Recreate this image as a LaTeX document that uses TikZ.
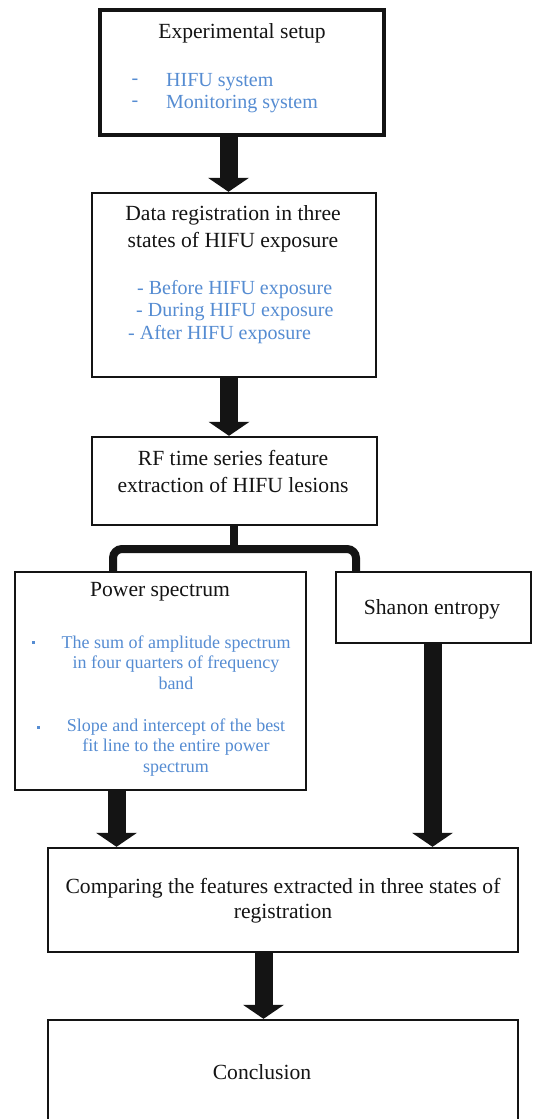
\documentclass[tikz,border=0pt]{standalone}
\usepackage{fontspec}
\setmainfont{Liberation Serif}
\usetikzlibrary{arrows.meta}
\definecolor{bluetxt}{RGB}{85,140,210}
\definecolor{ink}{RGB}{20,20,20}
\begin{document}
\begin{tikzpicture}[x=1pt,y=-1pt,
  box/.style={draw=ink, line width=2.4pt, inner sep=0pt, fill=white},
  ttl/.style={text=ink, font=\fontsize{21.6}{27}\selectfont, align=center, inner sep=0pt},
  blu/.style={text=bluetxt, font=\fontsize{20}{22.5}\selectfont, inner sep=0pt},
  blus/.style={text=bluetxt, font=\fontsize{18}{20.5}\selectfont, align=center, inner sep=0pt},
  bigarrow/.style={draw=ink, line width=18pt, -{Triangle[width=41pt,length=14pt,line width=0pt]}},
  forkline/.style={draw=ink, line width=8pt},
  dot/.style={fill=bluetxt, minimum size=3pt, inner sep=0pt}
]
\clip (0,0) rectangle (534,1119);
\fill[white] (0,0) rectangle (534,1119);

% boxes
\node[box, line width=3.6pt, minimum width=284pt, minimum height=125pt] (b1) at (242,72.5) {};
\node[box, minimum width=284pt, minimum height=184pt] (b2) at (234,285) {};
\node[box, minimum width=285pt, minimum height=88pt] (b3) at (234.5,481) {};
\node[box, minimum width=291pt, minimum height=218pt] (b4) at (160.5,681) {};
\node[box, minimum width=195pt, minimum height=71pt] (b5) at (433.5,607.5) {};
\node[box, minimum width=470pt, minimum height=104pt] (b6) at (283,900) {};
\node[box, minimum width=470pt, minimum height=140pt] (b7) at (283,1090) {};

% box 1 text
\node[ttl] (t1) at (242,33) {Experimental setup};
\node[blu] (d1a) at (135,82) {-};
\node[blu, anchor=west] (t1a) at (166,82) {HIFU system};
\node[blu] (d1b) at (135,104) {-};
\node[blu, anchor=west] (t1b) at (166,104) {Monitoring system};

% box 2 text
\node[ttl] (t2) at (233,228.5) {Data registration in three\\states of HIFU exposure};
\node[blu, anchor=west] (t2a) at (137,290) {- Before HIFU exposure};
\node[blu, anchor=west] (t2b) at (136,312) {- During HIFU exposure};
\node[blu, anchor=west] (t2c) at (128,335) {- After HIFU exposure};

% box 3 text
\node[ttl] (t3) at (233,471.5) {RF time series feature\\extraction of HIFU lesions};

% box 4 text
\node[ttl] (t4) at (160,592) {Power spectrum};
\node[dot] (p1) at (33,642) {};
\node[blus] (t4a) at (176,662.5) {The sum of amplitude spectrum\\in four quarters of frequency\\band};
\node[dot] (p2) at (38,727) {};
\node[blus] (t4b) at (176,747.5) {Slope and intercept of the best\\fit line to the entire power\\spectrum};

% box 5 text
\node[ttl] (t5) at (432,609) {Shanon entropy};

% box 6 text
\node[ttl, font=\fontsize{21.6}{25.5}\selectfont] (t6) at (283,900.5) {Comparing the features extracted in three states of\\registration};

% box 7 text
\node[ttl] (t7) at (262,1072) {Conclusion};

% connectors
\draw[bigarrow] ([xshift=-13.5pt]b1.south) -- ([xshift=-5.5pt]b2.north);
\draw[bigarrow] ([xshift=-5pt]b2.south) -- ([xshift=-5.5pt]b3.north);

\coordinate (fj) at (234,549);
\coordinate (xL) at (113,0);
\coordinate (xR) at (356,0);
\draw[forkline] (b3.south -| fj) -- (fj);
\draw[forkline, rounded corners=9pt] (b4.north -| xL) |- (fj) -| (b5.north -| xR);

\draw[bigarrow] ([xshift=-44pt]b4.south) -- ([xshift=-166.5pt]b6.north);
\draw[bigarrow] ([xshift=-1pt]b5.south) -- ([xshift=149.5pt]b6.north);
\draw[bigarrow] ([xshift=-19.5pt]b6.south) -- ([xshift=-19.5pt]b7.north);
\end{tikzpicture}
\end{document}
